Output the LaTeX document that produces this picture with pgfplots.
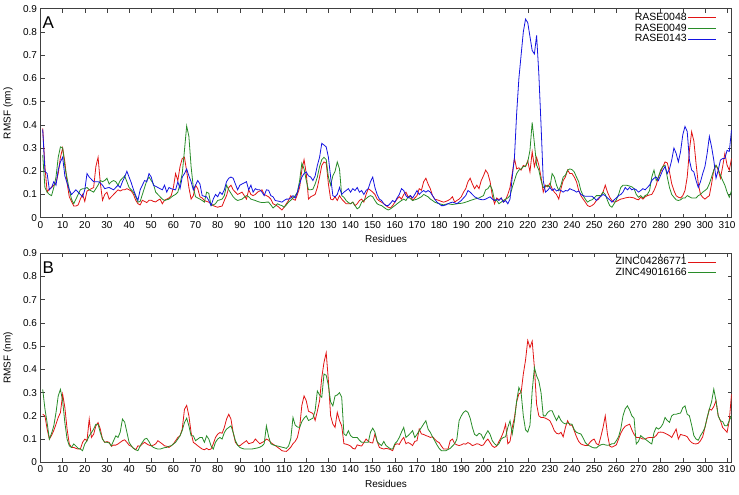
\documentclass[border=0pt]{standalone}
\usepackage{fontspec}
\setmainfont{Liberation Sans}
\usepackage{pgfplots}
\pgfplotsset{compat=1.18}
\definecolor{gpred}{RGB}{225,20,20}
\definecolor{gpgreen}{RGB}{40,140,40}
\definecolor{gpblue}{RGB}{20,20,225}

\pgfplotsset{
  rmsf/.style={
    width=691pt, height=209pt, scale only axis,
    xmin=0, xmax=312, ymin=0, ymax=0.9,
    xtick={0,10,...,310},
    ytick={0,0.1,0.2,0.3,0.4,0.5,0.6,0.7,0.8,0.9},
    yticklabel style={/pgf/number format/fixed,/pgf/number format/precision=1},
    /pgf/number format/assume math mode=true,
    tick label style={font=\fontsize{10}{12}\selectfont},
    label style={font=\fontsize{10}{12}\selectfont},
    ylabel style={at={(axis description cs:-0.047,0.5)}, anchor=center},
    tick align=inside, major tick length=4pt,
    axis line style={black!75, line width=0.5pt},
    every tick/.style={black!75, line width=0.5pt},
    xlabel={Residues}, ylabel={RMSF (nm)},
    legend plot pos=right,
    legend cell align=right,
    legend image code/.code={\draw[#1] (0pt,0pt) -- (28pt,0pt);},
    legend style={at={(rel axis cs:0.983,0.995)}, anchor=north east,
      draw=none, fill=none, font=\fontsize{10.5}{12}\selectfont,
      row sep=0pt, nodes={inner sep=1pt},
      /tikz/every even column/.append style={column sep=3pt}},
    every axis plot/.append style={line width=0.8pt},
  },
}

\begin{document}
\begin{tikzpicture}
\useasboundingbox (-40.5pt,8.7pt) rectangle (698.5pt,-486.3pt);

\begin{axis}[rmsf, name=A, at={(0pt,0pt)}, anchor=north west]
\node[anchor=north west, inner sep=0pt, xshift=2pt, yshift=-8pt, font=\fontsize{17}{19}\selectfont] at (rel axis cs:0,1) {A};
% RASE0048
\addplot[gpred] coordinates {
(1,0.385)(2,0.22)(3,0.11)(4,0.125)(5,0.13)(6,0.14)(7,0.15)(8,0.19)(9,0.26)(10,0.30)
(11,0.24)(12,0.15)(13,0.09)(14,0.07)(15,0.05)(16,0.05)(17,0.055)(18,0.08)(19,0.10)(20,0.07)
(21,0.115)(22,0.12)(23,0.125)(24,0.13)(25,0.22)(26,0.26)(27,0.15)(28,0.075)(29,0.10)(30,0.11)
(31,0.08)(32,0.09)(33,0.10)(34,0.11)(35,0.12)(36,0.115)(37,0.12)(38,0.12)(39,0.125)(40,0.12)
(41,0.115)(42,0.10)(43,0.075)(44,0.06)(45,0.055)(46,0.075)(47,0.07)(48,0.065)(49,0.075)(50,0.075)
(51,0.07)(52,0.068)(53,0.075)(54,0.08)(55,0.06)(56,0.075)(57,0.08)(58,0.085)(59,0.095)(60,0.13)
(61,0.19)(62,0.16)(63,0.22)(64,0.255)(65,0.26)(66,0.20)(67,0.13)(68,0.08)(69,0.095)(70,0.14)
(71,0.125)(72,0.09)(73,0.085)(74,0.074)(75,0.07)(76,0.067)(77,0.06)(78,0.052)(79,0.048)(80,0.045)
(81,0.048)(82,0.05)(83,0.074)(84,0.095)(85,0.13)(86,0.14)(87,0.12)(88,0.11)(89,0.10)(90,0.105)
(91,0.11)(92,0.095)(93,0.08)(94,0.12)(95,0.10)(96,0.095)(97,0.10)(98,0.11)(99,0.115)(100,0.12)
(101,0.10)(102,0.095)(103,0.09)(104,0.08)(105,0.06)(106,0.055)(107,0.05)(108,0.042)(109,0.033)(110,0.045)
(111,0.06)(112,0.074)(113,0.095)(114,0.08)(115,0.075)(116,0.10)(117,0.13)(118,0.205)(119,0.25)(120,0.19)
(121,0.08)(122,0.09)(123,0.095)(124,0.10)(125,0.13)(126,0.175)(127,0.225)(128,0.24)(129,0.235)(130,0.145)
(131,0.08)(132,0.077)(133,0.09)(134,0.074)(135,0.095)(136,0.08)(137,0.07)(138,0.06)(139,0.06)(140,0.06)
(141,0.067)(142,0.052)(143,0.06)(144,0.074)(145,0.08)(146,0.067)(147,0.10)(148,0.125)(149,0.118)(150,0.11)
(151,0.10)(152,0.08)(153,0.072)(154,0.067)(155,0.06)(156,0.052)(157,0.045)(158,0.042)(159,0.052)(160,0.067)
(161,0.08)(162,0.09)(163,0.08)(164,0.10)(165,0.11)(166,0.09)(167,0.095)(168,0.074)(169,0.085)(170,0.095)
(171,0.125)(172,0.118)(173,0.155)(174,0.17)(175,0.145)(176,0.125)(177,0.095)(178,0.08)(179,0.077)(180,0.074)
(181,0.07)(182,0.067)(183,0.07)(184,0.074)(185,0.08)(186,0.09)(187,0.067)(188,0.074)(189,0.08)(190,0.09)
(191,0.11)(192,0.125)(193,0.155)(194,0.17)(195,0.145)(196,0.125)(197,0.14)(198,0.125)(199,0.16)(200,0.18)
(201,0.205)(202,0.19)(203,0.155)(204,0.095)(205,0.06)(206,0.085)(207,0.077)(208,0.085)(209,0.067)(210,0.077)
(211,0.10)(212,0.13)(213,0.19)(214,0.255)(215,0.21)(216,0.215)(217,0.205)(218,0.225)(219,0.22)(220,0.245)
(221,0.197)(222,0.284)(223,0.22)(224,0.26)(225,0.226)(226,0.175)(227,0.11)(228,0.14)(229,0.133)(230,0.148)
(231,0.125)(232,0.11)(233,0.10)(234,0.08)(235,0.125)(236,0.16)(237,0.175)(238,0.205)(239,0.19)(240,0.19)
(241,0.175)(242,0.155)(243,0.117)(244,0.095)(245,0.08)(246,0.067)(247,0.052)(248,0.048)(249,0.052)(250,0.06)
(251,0.074)(252,0.08)(253,0.095)(254,0.11)(255,0.14)(256,0.11)(257,0.088)(258,0.074)(259,0.067)(260,0.07)
(261,0.075)(262,0.08)(263,0.082)(264,0.085)(265,0.087)(266,0.088)(267,0.087)(268,0.085)(269,0.08)(270,0.077)
(271,0.088)(272,0.08)(273,0.09)(274,0.095)(275,0.098)(276,0.10)(277,0.117)(278,0.14)(279,0.175)(280,0.197)
(281,0.22)(282,0.24)(283,0.236)(284,0.197)(285,0.146)(286,0.117)(287,0.095)(288,0.088)(289,0.085)(290,0.095)
(291,0.117)(292,0.175)(293,0.29)(294,0.37)(295,0.33)(296,0.233)(297,0.146)(298,0.10)(299,0.088)(300,0.08)
(301,0.088)(302,0.095)(303,0.146)(304,0.205)(305,0.225)(306,0.205)(307,0.17)(308,0.22)(309,0.277)(310,0.226)
(311,0.205)(312,0.255)};
\addlegendentry{RASE0048}
% RASE0049
\addplot[gpgreen] coordinates {
(1,0.27)(2,0.13)(3,0.11)(4,0.10)(5,0.095)(6,0.13)(7,0.175)(8,0.26)(9,0.305)(10,0.30)
(11,0.22)(12,0.17)(13,0.12)(14,0.08)(15,0.06)(16,0.08)(17,0.10)(18,0.12)(19,0.125)(20,0.125)
(21,0.13)(22,0.12)(23,0.115)(24,0.11)(25,0.125)(26,0.14)(27,0.16)(28,0.155)(29,0.16)(30,0.17)
(31,0.145)(32,0.155)(33,0.16)(34,0.155)(35,0.14)(36,0.16)(37,0.17)(38,0.18)(39,0.155)(40,0.13)
(41,0.12)(42,0.11)(43,0.09)(44,0.067)(45,0.07)(46,0.10)(47,0.13)(48,0.16)(49,0.175)(50,0.16)
(51,0.145)(52,0.11)(53,0.10)(54,0.09)(55,0.08)(56,0.074)(57,0.077)(58,0.08)(59,0.088)(60,0.095)
(61,0.10)(62,0.11)(63,0.145)(64,0.19)(65,0.29)(66,0.395)(67,0.35)(68,0.22)(69,0.13)(70,0.09)
(71,0.085)(72,0.08)(73,0.074)(74,0.067)(75,0.11)(76,0.105)(77,0.052)(78,0.055)(79,0.06)(80,0.074)
(81,0.077)(82,0.08)(83,0.095)(84,0.14)(85,0.12)(86,0.105)(87,0.09)(88,0.08)(89,0.074)(90,0.077)
(91,0.08)(92,0.088)(93,0.095)(94,0.09)(95,0.08)(96,0.077)(97,0.074)(98,0.07)(99,0.067)(100,0.065)
(101,0.065)(102,0.067)(103,0.067)(104,0.055)(105,0.042)(106,0.05)(107,0.06)(108,0.055)(109,0.052)(110,0.045)
(111,0.055)(112,0.067)(113,0.075)(114,0.085)(115,0.095)(116,0.11)(117,0.16)(118,0.235)(119,0.21)(120,0.16)
(121,0.12)(122,0.12)(123,0.123)(124,0.145)(125,0.175)(126,0.22)(127,0.25)(128,0.26)(129,0.25)(130,0.175)
(131,0.14)(132,0.18)(133,0.20)(134,0.24)(135,0.21)(136,0.095)(137,0.088)(138,0.074)(139,0.065)(140,0.06)
(141,0.067)(142,0.052)(143,0.038)(144,0.045)(145,0.067)(146,0.074)(147,0.082)(148,0.09)(149,0.095)(150,0.09)
(151,0.074)(152,0.06)(153,0.055)(154,0.052)(155,0.045)(156,0.038)(157,0.033)(158,0.038)(159,0.045)(160,0.052)
(161,0.06)(162,0.067)(163,0.074)(164,0.08)(165,0.074)(166,0.09)(167,0.082)(168,0.074)(169,0.077)(170,0.08)
(171,0.085)(172,0.09)(173,0.10)(174,0.095)(175,0.09)(176,0.08)(177,0.074)(178,0.067)(179,0.063)(180,0.06)
(181,0.058)(182,0.055)(183,0.058)(184,0.06)(185,0.058)(186,0.057)(187,0.058)(188,0.06)(189,0.061)(190,0.062)
(191,0.064)(192,0.067)(193,0.07)(194,0.074)(195,0.077)(196,0.08)(197,0.083)(198,0.085)(199,0.09)(200,0.095)
(201,0.12)(202,0.125)(203,0.14)(204,0.12)(205,0.074)(206,0.074)(207,0.06)(208,0.067)(209,0.074)(210,0.08)
(211,0.085)(212,0.095)(213,0.13)(214,0.16)(215,0.19)(216,0.205)(217,0.21)(218,0.22)(219,0.222)(220,0.24)
(221,0.29)(222,0.41)(223,0.32)(224,0.226)(225,0.205)(226,0.16)(227,0.13)(228,0.133)(229,0.14)(230,0.13)
(231,0.19)(232,0.175)(233,0.14)(234,0.117)(235,0.14)(236,0.175)(237,0.183)(238,0.205)(239,0.21)(240,0.207)
(241,0.197)(242,0.175)(243,0.155)(244,0.117)(245,0.095)(246,0.08)(247,0.067)(248,0.074)(249,0.077)(250,0.085)
(251,0.095)(252,0.095)(253,0.095)(254,0.11)(255,0.10)(256,0.074)(257,0.052)(258,0.045)(259,0.06)(260,0.077)
(261,0.10)(262,0.13)(263,0.14)(264,0.14)(265,0.139)(266,0.136)(267,0.133)(268,0.125)(269,0.10)(270,0.088)
(271,0.095)(272,0.085)(273,0.095)(274,0.10)(275,0.117)(276,0.175)(277,0.205)(278,0.16)(279,0.175)(280,0.205)
(281,0.22)(282,0.226)(283,0.175)(284,0.13)(285,0.10)(286,0.088)(287,0.077)(288,0.074)(289,0.077)(290,0.085)
(291,0.085)(292,0.095)(293,0.09)(294,0.085)(295,0.085)(296,0.085)(297,0.095)(298,0.10)(299,0.11)(300,0.117)
(301,0.125)(302,0.146)(303,0.175)(304,0.205)(305,0.226)(306,0.21)(307,0.183)(308,0.16)(309,0.14)(310,0.11)
(311,0.088)(312,0.117)};
\addlegendentry{RASE0049}
% RASE0143
\addplot[gpblue] coordinates {
(1,0.38)(2,0.20)(3,0.19)(4,0.12)(5,0.13)(6,0.155)(7,0.14)(8,0.205)(9,0.24)(10,0.26)
(11,0.18)(12,0.15)(13,0.12)(14,0.10)(15,0.11)(16,0.12)(17,0.11)(18,0.10)(19,0.09)(20,0.12)
(21,0.19)(22,0.175)(23,0.165)(24,0.155)(25,0.155)(26,0.155)(27,0.15)(28,0.14)(29,0.125)(30,0.128)
(31,0.13)(32,0.125)(33,0.12)(34,0.13)(35,0.14)(36,0.13)(37,0.155)(38,0.175)(39,0.20)(40,0.175)
(41,0.15)(42,0.12)(43,0.095)(44,0.075)(45,0.12)(46,0.14)(47,0.16)(48,0.155)(49,0.19)(50,0.175)
(51,0.14)(52,0.135)(53,0.13)(54,0.125)(55,0.12)(56,0.14)(57,0.11)(58,0.13)(59,0.125)(60,0.122)
(61,0.12)(62,0.155)(63,0.125)(64,0.175)(65,0.19)(66,0.21)(67,0.18)(68,0.155)(69,0.12)(70,0.14)
(71,0.16)(72,0.145)(73,0.095)(74,0.092)(75,0.09)(76,0.074)(77,0.052)(78,0.08)(79,0.10)(80,0.09)
(81,0.11)(82,0.10)(83,0.12)(84,0.155)(85,0.17)(86,0.175)(87,0.17)(88,0.145)(89,0.12)(90,0.14)
(91,0.145)(92,0.15)(93,0.155)(94,0.12)(95,0.14)(96,0.11)(97,0.125)(98,0.12)(99,0.12)(100,0.11)
(101,0.095)(102,0.12)(103,0.118)(104,0.095)(105,0.09)(106,0.074)(107,0.072)(108,0.07)(109,0.067)(110,0.074)
(111,0.08)(112,0.08)(113,0.085)(114,0.095)(115,0.085)(116,0.11)(117,0.145)(118,0.175)(119,0.19)(120,0.197)
(121,0.18)(122,0.175)(123,0.16)(124,0.18)(125,0.225)(126,0.26)(127,0.32)(128,0.313)(129,0.305)(130,0.26)
(131,0.175)(132,0.095)(133,0.09)(134,0.10)(135,0.13)(136,0.10)(137,0.11)(138,0.117)(139,0.125)(140,0.11)
(141,0.125)(142,0.117)(143,0.13)(144,0.11)(145,0.117)(146,0.10)(147,0.117)(148,0.125)(149,0.155)(150,0.175)
(151,0.13)(152,0.10)(153,0.08)(154,0.074)(155,0.06)(156,0.052)(157,0.052)(158,0.062)(159,0.074)(160,0.067)
(161,0.085)(162,0.10)(163,0.125)(164,0.117)(165,0.095)(166,0.085)(167,0.095)(168,0.085)(169,0.10)(170,0.117)
(171,0.10)(172,0.11)(173,0.117)(174,0.11)(175,0.117)(176,0.11)(177,0.095)(178,0.08)(179,0.067)(180,0.06)
(181,0.052)(182,0.052)(183,0.055)(184,0.06)(185,0.064)(186,0.067)(187,0.064)(188,0.06)(189,0.067)(190,0.074)
(191,0.085)(192,0.095)(193,0.117)(194,0.11)(195,0.10)(196,0.09)(197,0.085)(198,0.08)(199,0.078)(200,0.077)
(201,0.08)(202,0.085)(203,0.09)(204,0.08)(205,0.074)(206,0.08)(207,0.074)(208,0.085)(209,0.067)(210,0.074)
(211,0.06)(212,0.08)(213,0.175)(214,0.26)(215,0.45)(216,0.60)(217,0.70)(218,0.80)(219,0.855)(220,0.84)
(221,0.78)(222,0.72)(223,0.705)(224,0.785)(225,0.62)(226,0.40)(227,0.16)(228,0.11)(229,0.118)(230,0.13)
(231,0.117)(232,0.125)(233,0.115)(234,0.12)(235,0.117)(236,0.11)(237,0.117)(238,0.115)(239,0.125)(240,0.12)
(241,0.117)(242,0.11)(243,0.115)(244,0.10)(245,0.095)(246,0.092)(247,0.092)(248,0.092)(249,0.092)(250,0.085)
(251,0.074)(252,0.085)(253,0.092)(254,0.10)(255,0.095)(256,0.085)(257,0.077)(258,0.067)(259,0.077)(260,0.085)
(261,0.095)(262,0.10)(263,0.11)(264,0.13)(265,0.12)(266,0.13)(267,0.12)(268,0.125)(269,0.12)(270,0.11)
(271,0.117)(272,0.125)(273,0.12)(274,0.13)(275,0.14)(276,0.16)(277,0.17)(278,0.175)(279,0.16)(280,0.183)
(281,0.205)(282,0.22)(283,0.19)(284,0.21)(285,0.248)(286,0.30)(287,0.277)(288,0.24)(289,0.285)(290,0.357)
(291,0.393)(292,0.371)(293,0.248)(294,0.205)(295,0.197)(296,0.16)(297,0.13)(298,0.155)(299,0.19)(300,0.22)
(301,0.277)(302,0.35)(303,0.305)(304,0.248)(305,0.17)(306,0.205)(307,0.248)(308,0.255)(309,0.255)(310,0.29)
(311,0.285)(312,0.378)};
\addlegendentry{RASE0143}
\end{axis}

\begin{axis}[rmsf, name=B, at={(0pt,-244.6pt)}, anchor=north west]
\node[anchor=north west, inner sep=0pt, xshift=2pt, yshift=-8pt, font=\fontsize{17}{19}\selectfont] at (rel axis cs:0,1) {B};
% ZINC04286771
\addplot[gpred] coordinates {
(1,0.207)(2,0.20)(3,0.143)(4,0.10)(5,0.116)(6,0.137)(7,0.164)(8,0.193)(9,0.214)(10,0.293)
(11,0.236)(12,0.143)(13,0.079)(14,0.064)(15,0.064)(16,0.06)(17,0.057)(18,0.057)(19,0.086)(20,0.10)
(21,0.093)(22,0.186)(23,0.107)(24,0.121)(25,0.157)(26,0.171)(27,0.143)(28,0.10)(29,0.086)(30,0.089)
(31,0.086)(32,0.069)(33,0.074)(34,0.074)(35,0.079)(36,0.086)(37,0.093)(38,0.097)(39,0.086)(40,0.074)
(41,0.069)(42,0.06)(43,0.054)(44,0.071)(45,0.069)(46,0.079)(47,0.086)(48,0.079)(49,0.074)(50,0.071)
(51,0.074)(52,0.079)(53,0.093)(54,0.086)(55,0.079)(56,0.071)(57,0.069)(58,0.064)(59,0.071)(60,0.079)
(61,0.093)(62,0.107)(63,0.114)(64,0.143)(65,0.228)(66,0.245)(67,0.20)(68,0.128)(69,0.086)(70,0.079)
(71,0.071)(72,0.064)(73,0.057)(74,0.054)(75,0.06)(76,0.054)(77,0.057)(78,0.079)(79,0.107)(80,0.121)
(81,0.128)(82,0.125)(83,0.15)(84,0.186)(85,0.207)(86,0.186)(87,0.128)(88,0.086)(89,0.074)(90,0.071)
(91,0.079)(92,0.086)(93,0.093)(94,0.08)(95,0.083)(96,0.086)(97,0.10)(98,0.09)(99,0.08)(100,0.085)
(101,0.09)(102,0.10)(103,0.095)(104,0.085)(105,0.078)(106,0.072)(107,0.065)(108,0.058)(109,0.05)(110,0.048)
(111,0.047)(112,0.055)(113,0.065)(114,0.08)(115,0.09)(116,0.107)(117,0.15)(118,0.245)(119,0.286)(120,0.265)
(121,0.22)(122,0.215)(123,0.21)(124,0.18)(125,0.22)(126,0.265)(127,0.365)(128,0.43)(129,0.472)(130,0.35)
(131,0.20)(132,0.165)(133,0.15)(134,0.215)(135,0.18)(136,0.157)(137,0.08)(138,0.078)(139,0.075)(140,0.07)
(141,0.06)(142,0.057)(143,0.075)(144,0.072)(145,0.07)(146,0.085)(147,0.10)(148,0.09)(149,0.085)(150,0.083)
(151,0.122)(152,0.09)(153,0.064)(154,0.06)(155,0.057)(156,0.06)(157,0.058)(158,0.055)(159,0.05)(160,0.075)
(161,0.08)(162,0.077)(163,0.095)(164,0.107)(165,0.08)(166,0.085)(167,0.08)(168,0.072)(169,0.09)(170,0.093)
(171,0.143)(172,0.122)(173,0.12)(174,0.115)(175,0.112)(176,0.107)(177,0.11)(178,0.10)(179,0.09)(180,0.085)
(181,0.07)(182,0.057)(183,0.057)(184,0.057)(185,0.093)(186,0.10)(187,0.08)(188,0.075)(189,0.072)(190,0.075)
(191,0.08)(192,0.078)(193,0.085)(194,0.08)(195,0.072)(196,0.075)(197,0.08)(198,0.078)(199,0.072)(200,0.075)
(201,0.09)(202,0.10)(203,0.085)(204,0.07)(205,0.064)(206,0.07)(207,0.09)(208,0.107)(209,0.13)(210,0.164)
(211,0.08)(212,0.09)(213,0.15)(214,0.193)(215,0.26)(216,0.295)(217,0.30)(218,0.38)(219,0.44)(220,0.525)
(221,0.494)(222,0.522)(223,0.408)(224,0.25)(225,0.20)(226,0.193)(227,0.193)(228,0.19)(229,0.185)(230,0.179)
(231,0.16)(232,0.136)(233,0.125)(234,0.122)(235,0.129)(236,0.11)(237,0.15)(238,0.179)(239,0.16)(240,0.16)
(241,0.136)(242,0.11)(243,0.09)(244,0.079)(245,0.075)(246,0.072)(247,0.072)(248,0.085)(249,0.095)(250,0.10)
(251,0.08)(252,0.075)(253,0.11)(254,0.15)(255,0.20)(256,0.12)(257,0.07)(258,0.065)(259,0.07)(260,0.075)
(261,0.10)(262,0.125)(263,0.143)(264,0.155)(265,0.16)(266,0.164)(267,0.14)(268,0.12)(269,0.107)(270,0.107)
(271,0.105)(272,0.10)(273,0.10)(274,0.105)(275,0.107)(276,0.107)(277,0.107)(278,0.115)(279,0.129)(280,0.13)
(281,0.129)(282,0.125)(283,0.12)(284,0.115)(285,0.107)(286,0.125)(287,0.143)(288,0.10)(289,0.12)(290,0.117)
(291,0.115)(292,0.11)(293,0.095)(294,0.085)(295,0.08)(296,0.079)(297,0.082)(298,0.093)(299,0.11)(300,0.15)
(301,0.19)(302,0.229)(303,0.225)(304,0.24)(305,0.265)(306,0.20)(307,0.179)(308,0.15)(309,0.14)(310,0.129)
(311,0.18)(312,0.293)};
\addlegendentry{ZINC04286771}
% ZINC49016166
\addplot[gpgreen] coordinates {
(1,0.314)(2,0.23)(3,0.17)(4,0.10)(5,0.125)(6,0.157)(7,0.214)(8,0.286)(9,0.314)(10,0.264)
(11,0.171)(12,0.10)(13,0.071)(14,0.064)(15,0.079)(16,0.07)(17,0.06)(18,0.057)(19,0.05)(20,0.079)
(21,0.093)(22,0.114)(23,0.128)(24,0.143)(25,0.164)(26,0.164)(27,0.128)(28,0.10)(29,0.086)(30,0.086)
(31,0.083)(32,0.071)(33,0.093)(34,0.114)(35,0.107)(36,0.13)(37,0.186)(38,0.173)(39,0.13)(40,0.086)
(41,0.071)(42,0.06)(43,0.054)(44,0.05)(45,0.071)(46,0.086)(47,0.10)(48,0.103)(49,0.089)(50,0.071)
(51,0.064)(52,0.06)(53,0.057)(54,0.057)(55,0.06)(56,0.063)(57,0.064)(58,0.069)(59,0.071)(60,0.079)
(61,0.086)(62,0.10)(63,0.114)(64,0.137)(65,0.171)(66,0.19)(67,0.157)(68,0.114)(69,0.114)(70,0.093)
(71,0.10)(72,0.107)(73,0.107)(74,0.086)(75,0.114)(76,0.10)(77,0.071)(78,0.057)(79,0.086)(80,0.10)
(81,0.107)(82,0.10)(83,0.128)(84,0.143)(85,0.15)(86,0.157)(87,0.128)(88,0.093)(89,0.074)(90,0.064)
(91,0.06)(92,0.057)(93,0.057)(94,0.057)(95,0.057)(96,0.058)(97,0.06)(98,0.062)(99,0.065)(100,0.07)
(101,0.08)(102,0.157)(103,0.11)(104,0.08)(105,0.075)(106,0.072)(107,0.07)(108,0.068)(109,0.065)(110,0.063)
(111,0.06)(112,0.07)(113,0.10)(114,0.193)(115,0.16)(116,0.152)(117,0.15)(118,0.175)(119,0.19)(120,0.20)
(121,0.18)(122,0.185)(123,0.19)(124,0.222)(125,0.307)(126,0.29)(127,0.28)(128,0.38)(129,0.375)(130,0.33)
(131,0.26)(132,0.243)(133,0.286)(134,0.29)(135,0.30)(136,0.28)(137,0.122)(138,0.115)(139,0.136)(140,0.115)
(141,0.107)(142,0.107)(143,0.107)(144,0.095)(145,0.086)(146,0.086)(147,0.086)(148,0.086)(149,0.13)(150,0.147)
(151,0.13)(152,0.09)(153,0.079)(154,0.072)(155,0.09)(156,0.072)(157,0.065)(158,0.058)(159,0.057)(160,0.08)
(161,0.09)(162,0.107)(163,0.13)(164,0.15)(165,0.107)(166,0.115)(167,0.125)(168,0.136)(169,0.107)(170,0.12)
(171,0.136)(172,0.15)(173,0.165)(174,0.179)(175,0.143)(176,0.129)(177,0.11)(178,0.093)(179,0.075)(180,0.06)
(181,0.05)(182,0.05)(183,0.05)(184,0.055)(185,0.06)(186,0.07)(187,0.08)(188,0.10)(189,0.179)(190,0.20)
(191,0.215)(192,0.222)(193,0.215)(194,0.19)(195,0.15)(196,0.12)(197,0.114)(198,0.125)(199,0.12)(200,0.10)
(201,0.12)(202,0.136)(203,0.12)(204,0.093)(205,0.08)(206,0.072)(207,0.08)(208,0.10)(209,0.107)(210,0.11)
(211,0.15)(212,0.179)(213,0.122)(214,0.179)(215,0.265)(216,0.322)(217,0.30)(218,0.20)(219,0.14)(220,0.13)
(221,0.16)(222,0.307)(223,0.408)(224,0.372)(225,0.35)(226,0.30)(227,0.20)(228,0.20)(229,0.215)(230,0.222)
(231,0.222)(232,0.20)(233,0.18)(234,0.20)(235,0.18)(236,0.17)(237,0.165)(238,0.17)(239,0.165)(240,0.164)
(241,0.14)(242,0.129)(243,0.125)(244,0.122)(245,0.105)(246,0.085)(247,0.075)(248,0.07)(249,0.065)(250,0.062)
(251,0.062)(252,0.07)(253,0.075)(254,0.078)(255,0.075)(256,0.073)(257,0.075)(258,0.08)(259,0.08)(260,0.093)
(261,0.11)(262,0.143)(263,0.20)(264,0.23)(265,0.243)(266,0.225)(267,0.20)(268,0.19)(269,0.079)(270,0.09)
(271,0.115)(272,0.107)(273,0.10)(274,0.093)(275,0.085)(276,0.079)(277,0.128)(278,0.15)(279,0.143)(280,0.15)
(281,0.165)(282,0.193)(283,0.18)(284,0.172)(285,0.20)(286,0.207)(287,0.207)(288,0.21)(289,0.212)(290,0.235)
(291,0.243)(292,0.207)(293,0.20)(294,0.16)(295,0.115)(296,0.10)(297,0.095)(298,0.115)(299,0.13)(300,0.15)
(301,0.193)(302,0.229)(303,0.26)(304,0.315)(305,0.265)(306,0.20)(307,0.179)(308,0.175)(309,0.157)(310,0.157)
(311,0.18)(312,0.20)};
\addlegendentry{ZINC49016166}
\end{axis}
\end{tikzpicture}
\end{document}
